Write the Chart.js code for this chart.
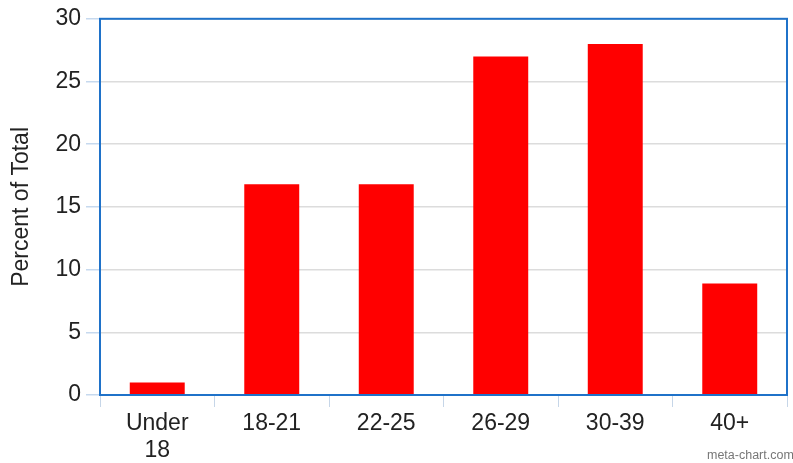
<!DOCTYPE html>
<html>
<head>
<meta charset="utf-8">
<script src="https://cdn.jsdelivr.net/npm/chart.js@4"></script>
<style>
  html, body { margin: 0; padding: 0; background: #fff; }
  #wrap { width: 793px; height: 463px; position: relative; }
</style>
</head>
<body>
<div id="wrap"><canvas id="c" width="793" height="463"></canvas></div>
<script>
// Age groups and share of total (percent)
const categories = [["Under", "18"], "18-21", "22-25", "26-29", "30-39", "40+"];
const percentOfTotal = [1, 16.8, 16.8, 27, 28, 8.9];
const yTicks = [0, 5, 10, 15, 20, 25, 30];

const FONT = "'Liberation Sans', Arial, sans-serif";
const BLUE = '#1f72c9';

// Frame around the plot area plus the small credit line
const framePlugin = {
  id: 'frame',
  afterDraw(chart) {
    const { ctx, chartArea: a } = chart;
    ctx.save();
    ctx.strokeStyle = BLUE;
    ctx.lineWidth = 2;
    ctx.strokeRect(a.left, a.top, a.right - a.left, a.bottom - a.top);
    ctx.fillStyle = '#777';
    ctx.font = '12.5px ' + FONT;
    ctx.textBaseline = 'alphabetic';
    ctx.fillText('meta-chart.com', 707, 459);
    ctx.restore();
  }
};

new Chart(document.getElementById('c'), {
  type: 'bar',
  data: {
    labels: categories,
    datasets: [{
      data: percentOfTotal,
      backgroundColor: '#ff0000',
      borderWidth: 0,
      barPercentage: 0.48,
      categoryPercentage: 1
    }]
  },
  options: {
    responsive: false,
    animation: false,
    layout: { padding: { top: 17, right: 6, left: 0, bottom: 0 } },
    plugins: { legend: { display: false }, tooltip: { enabled: false } },
    scales: {
      x: {
        offset: true,
        grid: {
          offset: true,
          drawOnChartArea: false,
          drawTicks: true,
          tickLength: 12,
          tickColor: '#c6d6e8'
        },
        border: { color: BLUE, width: 2 },
        ticks: {
          color: '#222',
          font: { family: FONT, size: 23, lineHeight: 1.18 },
          padding: 3,
          maxRotation: 0,
          autoSkip: false
        },
        afterFit(s) { s.height = 68; }
      },
      y: {
        min: 0,
        max: 30,
        afterBuildTicks(s) { s.ticks = yTicks.map(v => ({ value: v })); },
        grid: {
          color: '#dcdcdc',
          lineWidth: 1.5,
          tickLength: 14,
          tickColor: '#c6d9ee'
        },
        border: { color: BLUE, width: 2 },
        ticks: {
          color: '#222',
          font: { family: FONT, size: 23 },
          padding: 5
        },
        title: {
          display: true,
          text: 'Percent of Total',
          color: '#222',
          font: { family: FONT, size: 23 },
          padding: { top: 8, bottom: 0 }
        },
        afterFit(s) { s.width = 100; }
      }
    }
  },
  plugins: [framePlugin]
});
</script>
</body>
</html>
